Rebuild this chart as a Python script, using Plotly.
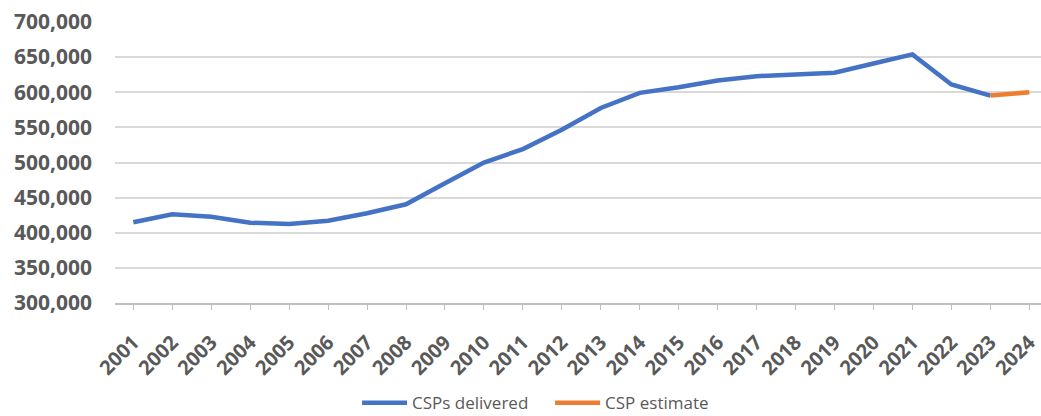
import plotly.graph_objects as go

years = [str(y) for y in range(2001, 2025)]
csps_delivered = [414900, 426300, 422900, 414300, 412400, 417100, 427700, 440500,
                  470600, 500000, 519100, 546700, 577700, 599100, 607100, 616700,
                  622900, 624800, 627700, 641000, 653900, 611000, 595300]
estimate_years = ["2023", "2024"]
csp_estimate = [595300, 600000]

y_ticks = [300000, 350000, 400000, 450000, 500000, 550000, 600000, 650000, 700000]

fig = go.Figure()
fig.add_trace(go.Scatter(
    x=years[:len(csps_delivered)], y=csps_delivered, mode="lines",
    name="CSPs delivered", line=dict(color="#4472C4", width=4.5),
))
fig.add_trace(go.Scatter(
    x=estimate_years, y=csp_estimate, mode="lines",
    name="CSP estimate", line=dict(color="#ED7D31", width=4.5),
))

y_font = dict(family="Open Sans", size=21, color="#595959", weight="bold")
x_font = dict(family="Open Sans", size=20, color="#595959", weight="bold")

fig.update_layout(
    width=1041, height=416,
    margin=dict(l=115, r=0, t=22, b=113, autoexpand=False),
    plot_bgcolor="white", paper_bgcolor="white",
    showlegend=True,
    legend=dict(
        orientation="h", xref="container", yref="container",
        x=0.343, xanchor="left", y=0.031, yanchor="middle",
        font=dict(family="Open Sans", size=17, color="#595959"),
        itemwidth=45, entrywidth=133, tracegroupgap=0,
        borderwidth=0,
    ),
    xaxis=dict(
        type="category", categoryorder="array", categoryarray=years,
        range=[-0.47, 23.3], tickangle=-45, tickfont=x_font,
        showgrid=False, showline=True, linecolor="#BFBFBF", linewidth=1.5,
        ticks="outside", ticklen=5, tickcolor="#BFBFBF", tickwidth=1,
        ticklabelstandoff=13,
    ),
    yaxis=dict(
        range=[300000, 700000], tickvals=y_ticks,
        ticktext=[f"{v:,}" for v in y_ticks], tickfont=y_font,
        showgrid=True, gridcolor="#D9D9D9", gridwidth=1.5,
        zeroline=False, showline=False, ticks="", ticklabelstandoff=22,
    ),
)

fig.write_html("out.html")
